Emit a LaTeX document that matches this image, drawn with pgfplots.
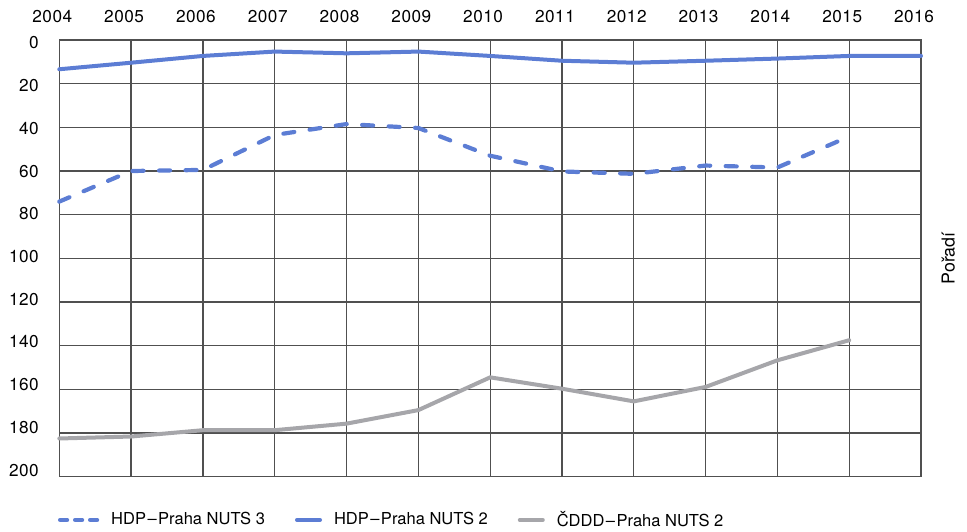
\documentclass[border=0pt]{standalone}
\usepackage{fontspec}
\setmainfont{TeX Gyre Heros}
\newfontfamily\numfont{TeX Gyre Heros}[LetterSpace=3]
\usepackage{pgfplots}
\pgfplotsset{compat=1.18}
\definecolor{cblue}{RGB}{92,125,212}
\definecolor{cgray}{RGB}{166,166,170}
\definecolor{cgrid}{RGB}{80,80,80}
\pgfplotsset{
  dashleg/.style={legend image code/.code={\draw[##1,dash pattern=on 7pt off 8pt] (2pt,0pt) -- (39pt,0pt);}},
  solleg/.style={legend image code/.code={\draw[##1] (2pt,0pt) -- (25pt,0pt);}},
}
\begin{document}
\fontsize{16.5}{19}\selectfont
\begin{tikzpicture}
\begin{axis}[
  at={(59.3pt,55.3pt)}, anchor=south west,
  scale only axis, width=861.7pt, height=436.7pt,
  xmin=2004, xmax=2016, ymin=0, ymax=200,
  y dir=reverse,
  xtick={2004,2005,...,2016},
  xticklabel pos=upper,
  ytick={1.37,20.93,40.49,60.05,79.6,99.16,118.7,138.3,157.8,177.4,196.95},
  yticklabels={0,20,40,60,80,100,120,140,160,180,200},
  extra y ticks={0,20,...,200},
  extra y tick labels={},
  extra y tick style={grid=major},
  ymajorgrids=false,
  xmajorgrids=true,
  major tick length=0pt,
  /pgf/number format/1000 sep={},
  /pgf/number format/assume math mode=true,
  tick label style={font=\numfont\fontsize{17.2}{19}\selectfont},
  xticklabel style={inner sep=0pt, anchor=south, yshift=16.7pt, xshift=-7pt},
  yticklabel style={inner sep=0pt, anchor=east, xshift=-20.3pt},
  axis line style={cgrid, line width=1.2pt},
  major grid style={cgrid, line width=1.2pt},
  ylabel={Pořadí},
  ylabel style={at={(axis description cs:1.0238,0.5)}, anchor=north, inner sep=0pt, font=\fontsize{17.8}{20}\selectfont},
  legend columns=-1,
  legend style={at={(axis description cs:-0.0015,-0.099)}, anchor=west, draw=none, inner sep=0pt, outer sep=0pt,
    font=\fontsize{16.5}{19}\selectfont,
    nodes={inner sep=0pt},
    /tikz/every odd column/.append style={column sep=12pt},
    /tikz/every even column/.append style={column sep=30pt}},
  clip=false,
]
\addplot[cblue, line width=4.2pt, line cap=round, dash pattern=on 11pt off 15.5pt, dashleg] coordinates {
(2004,74) (2005,60) (2006,59.5) (2007,43.5) (2008,38.5) (2009,40.3) (2010,53) (2011,60.2) (2012,61.3) (2013,57.5) (2014,58.4) (2015,44.2)};
\addlegendentry{HDP\kern1.5pt–\kern1.5pt Praha NUTS 3}
\addplot[cblue, line width=4pt, line cap=round, solleg] coordinates {
(2004,13.4) (2005,10.4) (2006,7.3) (2007,5.3) (2008,6.1) (2009,5.3) (2010,7.3) (2011,9.5) (2012,10.4) (2013,9.5) (2014,8.5) (2015,7.3) (2016,7.3)};
\addlegendentry{HDP\kern1.5pt–\kern1.5pt Praha NUTS 2}
\addplot[cgray, line width=4pt, line cap=round, solleg] coordinates {
(2004,182.5) (2005,181.6) (2006,178.7) (2007,178.7) (2008,175.7) (2009,169.5) (2010,154.5) (2011,159.7) (2012,165.5) (2013,158.9) (2014,146.7) (2015,137.5)};
\addlegendentry{ČDDD\kern1.5pt–\kern1.5pt Praha NUTS 2}
\end{axis}
\pgfresetboundingbox
\useasboundingbox (0,0) rectangle (967pt,532pt);
\end{tikzpicture}
\end{document}
